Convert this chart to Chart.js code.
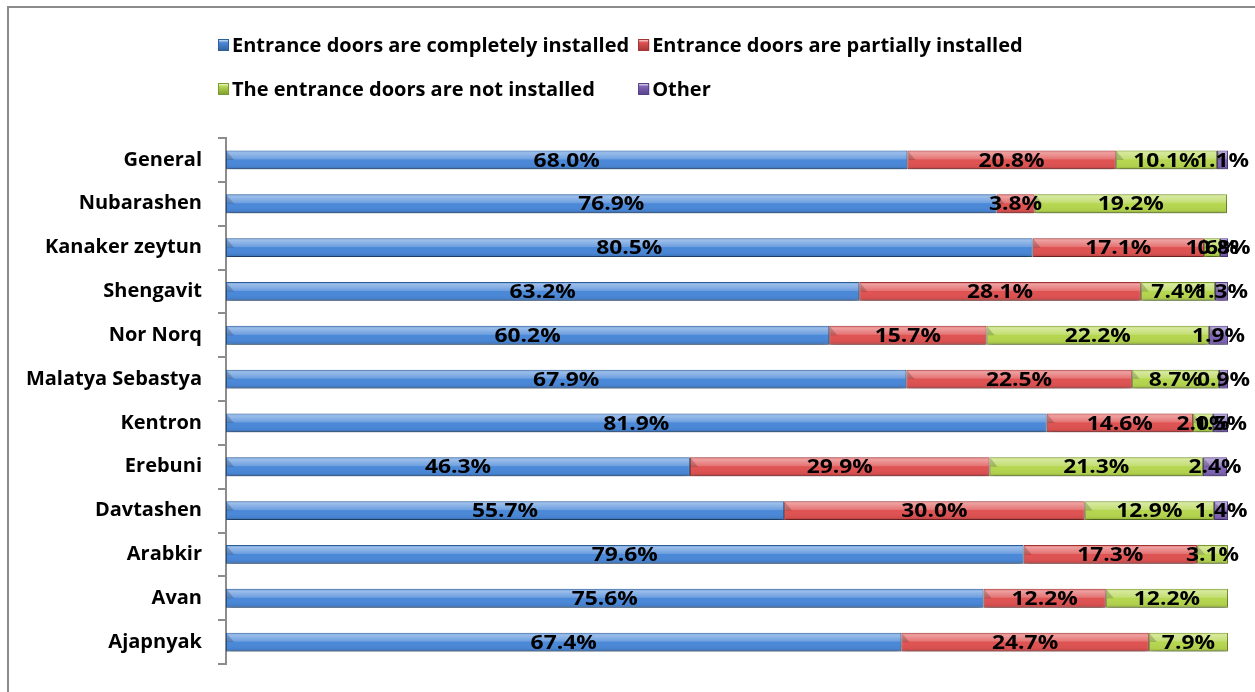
<!DOCTYPE html>
<html>
<head>
<meta charset="utf-8">
<script src="https://cdn.jsdelivr.net/npm/chart.js@4.4.1/dist/chart.umd.min.js"></script>
<style>
  html, body { margin: 0; padding: 0; background: #fff; overflow: hidden; }
  .frame {
    position: absolute; left: 7px; top: 6px; width: 1400px; height: 800px;
    border-left: 2px solid #8c8c8c; border-top: 2px solid #8c8c8c;
  }
  #doorsChart { position: absolute; left: 0; top: 0; }
</style>
</head>
<body>
<div class="frame"></div>
<canvas id="doorsChart" width="1255" height="692"></canvas>
<script>
const districts = [
    "General", "Nubarashen", "Kanaker zeytun", "Shengavit", "Nor Norq",
    "Malatya Sebastya", "Kentron", "Erebuni", "Davtashen", "Arabkir", "Avan", "Ajapnyak"
];

const completelyInstalled = [68.0, 76.9, 80.5, 63.2, 60.2, 67.9, 81.9, 46.3, 55.7, 79.6, 75.6, 67.4];
const partiallyInstalled  = [20.8, 3.8, 17.1, 28.1, 15.7, 22.5, 14.6, 29.9, 30.0, 17.3, 12.2, 24.7];
const notInstalled        = [10.1, 19.2, 1.6, 7.4, 22.2, 8.7, 2.0, 21.3, 12.9, 3.1, 12.2, 7.9];
const otherAnswer         = [1.1, 0, 0.8, 1.3, 1.9, 0.9, 1.5, 2.4, 1.4, 0, 0, 0];

const seriesNames = [
    "Entrance doors are completely installed",
    "Entrance doors are partially installed",
    "The entrance doors are not installed",
    "Other"
];

const palette = [
    { fill: "#4a88d8", edge: "#2f5f99" },
    { fill: "#df5252", edge: "#a23434" },
    { fill: "#b5d64f", edge: "#7b9a2e" },
    { fill: "#8064b6", edge: "#56408a" }
];

const LABEL_FONT = "bold 20px 'Open Sans'";
const LABEL_STRETCH = 1.14;

// soft drop shadow under the bars
const barShadow = {
    id: "barShadow",
    beforeDatasetsDraw(chart) {
        const ctx = chart.ctx;
        ctx.save();
        ctx.shadowColor = "rgba(0,0,0,0.38)";
        ctx.shadowBlur = 6;
        ctx.shadowOffsetY = 5;
    },
    afterDatasetsDraw(chart) {
        chart.ctx.restore();
    }
};

function barBox(el) {
    const p = el.getProps(["x", "y", "base", "height"], true);
    return {
        left: Math.min(p.x, p.base),
        right: Math.max(p.x, p.base),
        top: p.y - p.height / 2,
        bottom: p.y + p.height / 2,
        cy: p.y
    };
}

// glossy band on top, darker lower edge, then the value labels
const barGloss = {
    id: "barGloss",
    afterDatasetsDraw(chart) {
        const ctx = chart.ctx;
        chart.data.datasets.forEach((ds, di) => {
            chart.getDatasetMeta(di).data.forEach((el, i) => {
                if (!ds.data[i]) return;
                const b = barBox(el);
                const w = b.right - b.left;
                const h = b.bottom - b.top;
                const g = ctx.createLinearGradient(0, b.top, 0, b.bottom);
                g.addColorStop(0, "rgba(255,255,255,0.15)");
                g.addColorStop(0.12, "rgba(255,255,255,0.45)");
                g.addColorStop(0.45, "rgba(255,255,255,0.2)");
                g.addColorStop(0.5, "rgba(255,255,255,0)");
                g.addColorStop(0.85, "rgba(0,0,0,0.04)");
                g.addColorStop(1, "rgba(0,0,0,0.22)");
                ctx.save();
                ctx.fillStyle = g;
                ctx.fillRect(b.left + 1, b.top + 1, w - 2, h - 2);
                // small bevel at the start of each segment
                ctx.fillStyle = "rgba(0,0,0,0.18)";
                ctx.beginPath();
                ctx.moveTo(b.left + 1, b.top + 1);
                ctx.lineTo(b.left + Math.min(8, w / 2), b.top + h * 0.5);
                ctx.lineTo(b.left + 1, b.top + h * 0.5);
                ctx.closePath();
                ctx.fill();
                ctx.restore();
            });
        });

        ctx.save();
        ctx.font = LABEL_FONT;
        ctx.fillStyle = "#000";
        ctx.textAlign = "center";
        ctx.textBaseline = "middle";
        chart.data.datasets.forEach((ds, di) => {
            chart.getDatasetMeta(di).data.forEach((el, i) => {
                const v = ds.data[i];
                if (!v) return;
                const b = barBox(el);
                ctx.save();
                ctx.translate((b.left + b.right) / 2, b.cy + 1);
                ctx.scale(LABEL_STRETCH, 1);
                ctx.fillText(v.toFixed(1) + "%", 0, 0);
                ctx.restore();
            });
        });
        ctx.restore();
    }
};

// two-column legend above the plot
const gridLegend = {
    id: "gridLegend",
    afterDraw(chart) {
        const ctx = chart.ctx;
        const items = chart.data.datasets;
        ctx.save();
        ctx.font = "bold 20px 'Open Sans'";
        ctx.textBaseline = "middle";
        const firstCol = Math.max(ctx.measureText(items[0].label).width,
                                  ctx.measureText(items[2].label).width);
        const colX = [218, 218 + 14 + firstCol + 9];
        const rowY = [45, 89];
        items.forEach((ds, i) => {
            const x = colX[i % 2];
            const y = rowY[Math.floor(i / 2)];
            const g = ctx.createLinearGradient(0, y - 6, 0, y + 6);
            g.addColorStop(0, "#ffffff");
            g.addColorStop(0.3, ds.backgroundColor);
            g.addColorStop(1, ds.borderColor);
            ctx.fillStyle = g;
            ctx.fillRect(x, y - 6, 11, 12);
            ctx.strokeStyle = ds.borderColor;
            ctx.lineWidth = 1;
            ctx.strokeRect(x + 0.5, y - 5.5, 10, 11);
            ctx.fillStyle = "#000";
            ctx.fillText(ds.label, x + 14, y + 1);
        });
        ctx.restore();
    }
};

const seriesValues = [completelyInstalled, partiallyInstalled, notInstalled, otherAnswer];

new Chart(document.getElementById("doorsChart"), {
    type: "bar",
    data: {
        labels: districts,
        datasets: seriesValues.map((vals, i) => ({
            label: seriesNames[i],
            data: vals,
            backgroundColor: palette[i].fill,
            borderColor: palette[i].edge,
            borderWidth: 1,
            borderSkipped: false,
            categoryPercentage: 1,
            barPercentage: 0.43
        }))
    },
    options: {
        indexAxis: "y",
        responsive: false,
        animation: false,
        layout: { padding: { top: 138, right: 27, bottom: 25, left: 0 } },
        plugins: {
            legend: { display: false },
            tooltip: { enabled: false }
        },
        scales: {
            x: {
                stacked: true,
                min: 0,
                max: 100,
                display: false
            },
            y: {
                stacked: true,
                afterFit(scale) { scale.width = 226; },
                border: { display: true, color: "#8c8c8c", width: 2 },
                grid: {
                    offset: true,
                    drawOnChartArea: false,
                    tickLength: 8,
                    color: "#8c8c8c",
                    lineWidth: 2
                },
                ticks: {
                    padding: 16,
                    color: "#000",
                    font: { family: "'Open Sans'", size: 20, weight: "bold" }
                }
            }
        }
    },
    plugins: [barShadow, barGloss, gridLegend]
});
</script>
</body>
</html>
